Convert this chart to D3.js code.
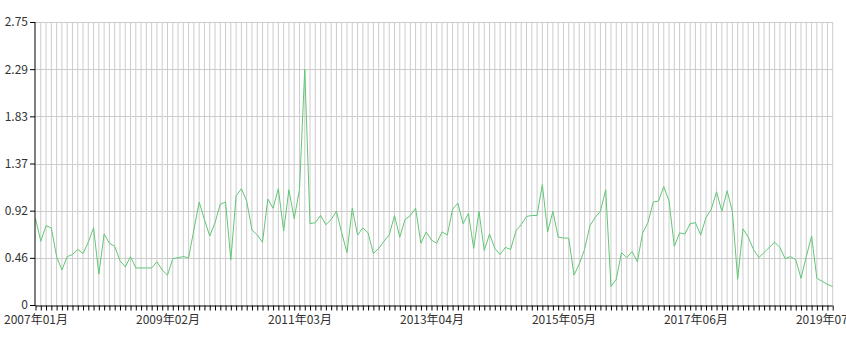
<!DOCTYPE html>
<html>
<head>
<meta charset="utf-8">
<script src="https://cdn.jsdelivr.net/npm/d3@7"></script>
<style>
  body { margin: 0; background: #fff; }
  svg text { font-family: "Noto Sans CJK SC", "Noto Sans", sans-serif; font-size: 12px; fill: #333; }
</style>
</head>
<body>
<div id="chart"></div>
<script>
// monthly categories, 2007-01 .. 2019-08
var startYear = 2007, startMonth = 1, monthCount = 152;
var months = [];
for (var k = 0; k < monthCount; k++) {
  var m = startMonth - 1 + k;
  var yy = startYear + Math.floor(m / 12);
  var mm = (m % 12) + 1;
  months.push(yy + '年' + (mm < 10 ? '0' : '') + mm + '月');
}

var values = [
  0.84, 0.62, 0.77, 0.75, 0.47, 0.34, 0.47, 0.49, 0.54, 0.50,
  0.61, 0.75, 0.30, 0.69, 0.60, 0.57, 0.43, 0.37, 0.47, 0.36,
  0.36, 0.36, 0.36, 0.42, 0.34, 0.29, 0.45, 0.46, 0.47, 0.46,
  0.73, 1.00, 0.83, 0.67, 0.80, 0.98, 1.00, 0.44, 1.06, 1.13,
  1.01, 0.73, 0.68, 0.61, 1.03, 0.94, 1.13, 0.72, 1.12, 0.84,
  1.12, 2.29, 0.79, 0.80, 0.87, 0.78, 0.83, 0.91, 0.70, 0.51,
  0.94, 0.68, 0.75, 0.70, 0.50, 0.55, 0.62, 0.68, 0.87, 0.66,
  0.83, 0.87, 0.94, 0.60, 0.71, 0.63, 0.60, 0.71, 0.68, 0.93,
  0.99, 0.79, 0.89, 0.55, 0.91, 0.53, 0.69, 0.55, 0.49, 0.56,
  0.54, 0.72, 0.78, 0.86, 0.87, 0.87, 1.17, 0.71, 0.91, 0.66,
  0.65, 0.65, 0.29, 0.40, 0.54, 0.77, 0.85, 0.91, 1.12, 0.18,
  0.25, 0.51, 0.46, 0.52, 0.42, 0.70, 0.80, 1.00, 1.01, 1.15,
  1.01, 0.57, 0.70, 0.69, 0.79, 0.80, 0.68, 0.85, 0.93, 1.10,
  0.91, 1.11, 0.91, 0.25, 0.74, 0.66, 0.54, 0.46, 0.51, 0.56,
  0.61, 0.56, 0.45, 0.47, 0.44, 0.26, 0.47, 0.67, 0.26, 0.23,
  0.20, 0.18
];

var yMax = 2.75;
var yTickLabels = ['0', '0.46', '0.92', '1.37', '1.83', '2.29', '2.75'];
var labelEvery = 25;

var W = 846, H = 348;
var margin = {top: 22, right: 13.3, bottom: 43, left: 35.5};
var width = W - margin.left - margin.right;
var height = H - margin.top - margin.bottom;

var x = d3.scalePoint().domain(months).range([0, width]);
var y = d3.scaleLinear().domain([0, yMax]).range([height, 0]);

var svg = d3.select('#chart')
  .append('svg')
    .attr('width', W)
    .attr('height', H)
  .append('g')
    .attr('transform', 'translate(' + margin.left + ',' + margin.top + ')');

var yTicks = yTickLabels.map(function(d, i) { return yMax * i / (yTickLabels.length - 1); });

// vertical split lines, one per month
svg.append('g')
  .selectAll('line').data(months.slice(1))
  .enter().append('line')
    .attr('x1', function(d) { return x(d); })
    .attr('x2', function(d) { return x(d); })
    .attr('y1', 0)
    .attr('y2', height)
    .attr('stroke', '#ccc');

// horizontal split lines
svg.append('g')
  .selectAll('line').data(yTicks.slice(1))
  .enter().append('line')
    .attr('x1', 0)
    .attr('x2', width)
    .attr('y1', function(d) { return Math.round(y(d)) + 0.5; })
    .attr('y2', function(d) { return Math.round(y(d)) + 0.5; })
    .attr('stroke', '#ccc');

// the series
var line = d3.line()
  .x(function(d, i) { return x(months[i]); })
  .y(function(d) { return y(d); });

svg.append('path')
  .datum(values)
  .attr('d', line)
  .attr('fill', 'none')
  .attr('stroke', '#61c775')
  .attr('stroke-width', 1);

// x axis
var xAxis = d3.axisBottom(x)
  .tickSize(5)
  .tickFormat(function(d, i) { return i % labelEvery === 0 ? d : ''; });

var gx = svg.append('g')
  .attr('transform', 'translate(0,' + (height + 0.5) + ')')
  .call(xAxis);
gx.select('.domain').attr('stroke', '#000').attr('d', 'M0,0.5H' + width);
gx.selectAll('.tick line').attr('stroke', '#000');
gx.selectAll('.tick text').attr('dy', '0.9em').style('fill', '#333');

// y axis
var yAxis = d3.axisLeft(y)
  .tickValues(yTicks)
  .tickSize(5)
  .tickFormat(function(d, i) { return yTickLabels[i]; });

var gy = svg.append('g')
  .attr('transform', 'translate(-0.5,0)')
  .call(yAxis);
gy.select('.domain').attr('stroke', '#000').attr('d', 'M0,0V' + (height + 1));
gy.selectAll('.tick line').attr('stroke', '#000');
gy.selectAll('.tick text').attr('x', -7).style('fill', '#333');
</script>
</body>
</html>
